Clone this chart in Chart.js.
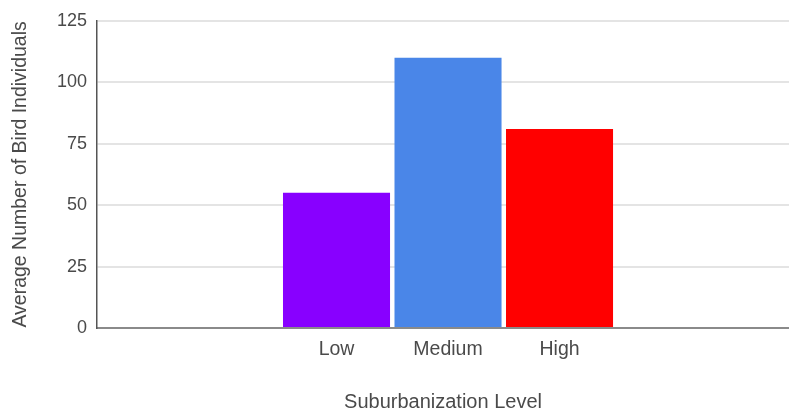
<!DOCTYPE html>
<html>
<head>
<meta charset="utf-8">
<script src="https://cdn.jsdelivr.net/npm/chart.js@4"></script>
<style>
  body { margin: 0; background: #fff; }
  canvas { display: block; }
</style>
</head>
<body>
<canvas id="birdChart" width="789" height="417"></canvas>
<script>
// Chart data
const levels = ['Low', 'Medium', 'High'];
const birdCounts = [55, 110, 81];
const barColors = ['#8800ff', '#4a86e8', '#ff0000'];
const yTicks = [0, 25, 50, 75, 100, 125];

const FONT = '"Liberation Sans", Arial, sans-serif';
const TEXT = '#4a4a4a';

const ctx = document.getElementById('birdChart').getContext('2d');

new Chart(ctx, {
    type: 'bar',
    data: {
        datasets: [{
            data: levels.map((l, i) => ({ x: i, y: birdCounts[i] })),
            backgroundColor: barColors,
            borderWidth: 0,
            categoryPercentage: 1,
            barPercentage: 0.96
        }]
    },
    options: {
        responsive: false,
        animation: false,
        layout: { padding: { top: 19, right: 0, bottom: 0, left: 0 } },
        plugins: {
            legend: { display: false },
            tooltip: { enabled: false }
        },
        scales: {
            x: {
                type: 'linear',
                offset: false,
                min: -2.148,
                max: 4.058,
                afterBuildTicks: axis => { axis.ticks = levels.map((l, i) => ({ value: i })); },
                afterFit: axis => { axis.height = 89; },
                grid: { display: false, drawTicks: false, offset: false },
                border: { color: '#8a8a8a', width: 2 },
                ticks: {
                    padding: 10,
                    color: TEXT,
                    font: { family: FONT, size: 19.5 },
                    callback: v => levels[v]
                },
                title: {
                    display: true,
                    text: 'Suburbanization Level',
                    color: TEXT,
                    font: { family: FONT, size: 20 },
                    padding: { top: 4, bottom: 3 }
                }
            },
            y: {
                min: 0,
                max: 125,
                afterBuildTicks: axis => { axis.ticks = yTicks.map(v => ({ value: v })); },
                afterFit: axis => { axis.width = 97; },
                grid: { color: '#e4e4e4', lineWidth: 2, drawTicks: false },
                border: { color: '#555', width: 1.5 },
                ticks: {
                    padding: 10,
                    color: TEXT,
                    font: { family: FONT, size: 18 }
                },
                title: {
                    display: true,
                    text: 'Average Number of Bird Individuals',
                    color: TEXT,
                    font: { family: FONT, size: 19.5 },
                    padding: { top: 9, bottom: 0 }
                }
            }
        }
    }
});
</script>
</body>
</html>
